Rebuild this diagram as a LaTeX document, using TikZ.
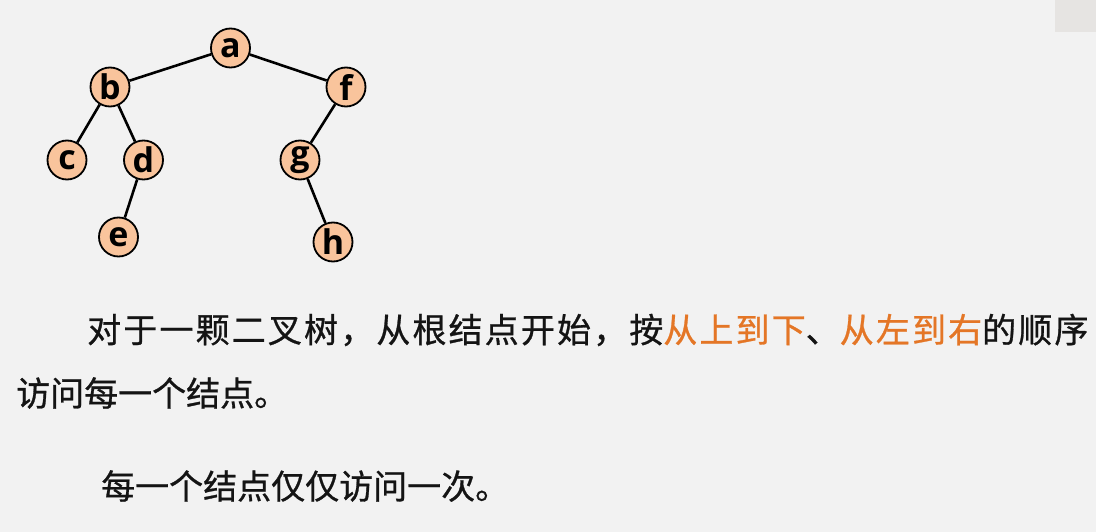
\documentclass[tikz,border=0pt]{standalone}
\usepackage{fontspec}
\newfontfamily\cjk[FakeBold=0.8]{Noto Sans CJK SC}
\newfontfamily\cjkls[LetterSpace=6.3,FakeBold=0.8]{Noto Sans CJK SC}
\newfontfamily\lat{Open Sans}
\definecolor{bgc}{RGB}{242,242,242}
\definecolor{boxc}{RGB}{230,228,226}
\definecolor{peach}{RGB}{249,196,156}
\definecolor{orng}{RGB}{228,118,38}
\definecolor{txt}{RGB}{20,20,20}
\begin{document}
\begin{tikzpicture}[x=1pt,y=-1pt,
  tnode/.style={circle,draw=black,line width=1.8pt,fill=peach,minimum size=39pt,inner sep=0pt,
    font=\lat\bfseries\fontsize{34}{34}\selectfont},
  tedge/.style={line width=2.6pt,black},
  para/.style={anchor=west,inner sep=0pt,text=txt,font=\cjk\fontsize{34}{40}\selectfont}]
\fill[bgc] (0,0) rectangle (1096,532);
\useasboundingbox (0,0) rectangle (1096,532);
\fill[boxc] (1055,0) rectangle (1096,32);
\node[tnode] (a) at (230.5,48) {a};
\node[tnode] (b) at (110,87) {b};
\node[tnode] (f) at (346,87) {f};
\node[tnode] (c) at (67,160) {c};
\node[tnode] (d) at (143.5,160) {d};
\node[tnode] (g) at (300,160) {g};
\node[tnode] (e) at (118.5,237) {e};
\node[tnode] (h) at (333,242) {h};
\draw[tedge] (a) -- (b);
\draw[tedge] (a) -- (f);
\draw[tedge] (b) -- (c);
\draw[tedge] (b) -- (d);
\draw[tedge] (d) -- (e);
\draw[tedge] (f) -- (g);
\draw[tedge] (g) -- (h);
\node[para,font=\cjkls\fontsize{34}{40}\selectfont] (l1) at (87,330) {对于一颗二叉树，从根结点开始，按\textcolor{orng}{从上到下}、\textcolor{orng}{从左到右}的顺序};
\node[para] (l2) at (16,393) {访问每一个结点。};
\node[para] (l3) at (101,486) {每一个结点仅仅访问一次。};
\end{tikzpicture}
\end{document}
